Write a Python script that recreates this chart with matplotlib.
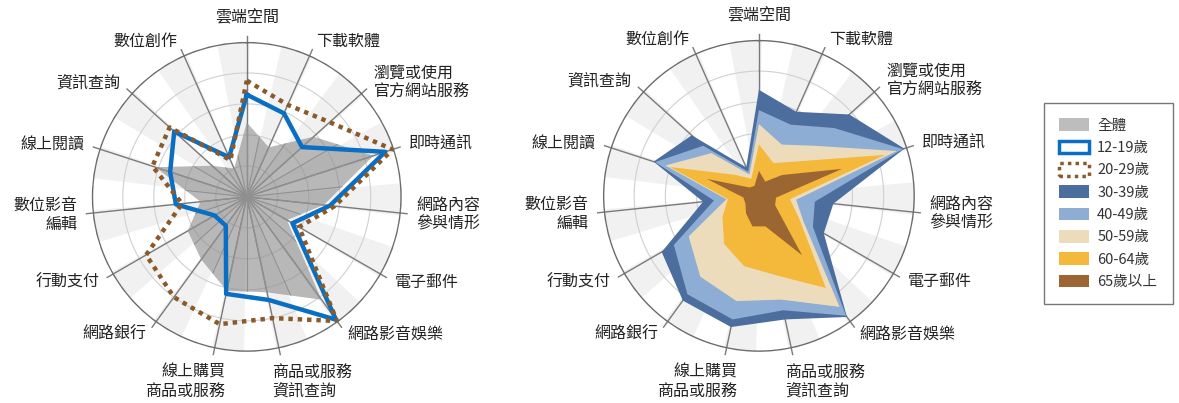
import numpy as np
import matplotlib
matplotlib.use('Agg')
import matplotlib.pyplot as plt
from matplotlib.patches import Patch

plt.rcParams['font.family'] = ['Noto Sans CJK TC', 'DejaVu Sans']

categories = ['雲端空間', '下載軟體', '瀏覽或使用\n官方網站服務', '即時通訊', '網路內容\n參與情形',
              '電子郵件', '網路影音娛樂', '商品或服務\n資訊查詢', '線上購買\n商品或服務', '網路銀行',
              '行動支付', '數位影音\n編輯', '線上閱讀', '資訊查詢', '數位創作']

total = [48, 35, 58, 86, 50, 30, 82, 63, 62, 50, 44, 30, 62, 30, 20]
age_12_19 = [66, 59, 48, 94, 54, 34, 98, 68, 64, 23, 24, 46, 52, 63, 28]
age_20_29 = [75, 65, 72, 99, 57, 39, 99, 80, 84, 80, 75, 42, 64, 67, 26]
age_30_39 = [68, 59, 78, 98, 48, 48, 96, 81, 86, 83, 72, 36, 71, 58, 20]
age_40_49 = [55, 50, 65, 97, 36, 40, 95, 75, 81, 78, 63, 29, 70, 48, 17]
age_50_59 = [46, 36, 48, 93, 24, 33, 88, 68, 69, 64, 52, 21, 63, 41, 15]
age_60_64 = [33, 23, 33, 85, 20, 30, 73, 52, 46, 38, 27, 20, 60, 20, 12]
age_65_up = [16, 10, 20, 56, 11, 12, 47, 20, 20, 14, 10, 10, 35, 8, 7]

n = len(categories)
theta = np.arange(n) * 2 * np.pi / n


def closed(v):
    return np.append(v, v[0])


def setup(ax):
    ax.set_theta_zero_location('N')
    ax.set_theta_direction(-1)
    ax.set_ylim(0, 100)
    ax.axis('off')
    # alternating background sectors
    w = np.pi / n
    starts = theta - np.deg2rad(11)
    ax.bar(starts + w / 2, 100, width=w, color='#f1f1f1', edgecolor='none', zorder=0)
    t = np.linspace(0, 2 * np.pi, 400)
    for r in [20, 40, 60, 80]:
        ax.plot(t, np.full_like(t, r), color='#d0d0d0', lw=0.8, zorder=1)
    for a in theta:
        ax.plot([a, a], [0, 104], color='#7a7a7a', lw=1, zorder=1, clip_on=False)
    ax.plot(t, np.full_like(t, 100), color='#6b6b6b', lw=2, zorder=5)
    for a, lab in zip(theta, categories):
        s, c = np.sin(a), np.cos(a)
        ha = 'left' if s > 0.05 else ('right' if s < -0.05 else 'center')
        va = 'bottom' if c > 0.95 else ('top' if c < -0.95 else 'center')
        dx = 0
        if va == 'top':
            dx = -7 if ha == 'left' else 10
        ax.annotate(lab, (a, 110), xytext=(dx, 0), textcoords='offset points',
                    ha=ha, va=va, fontsize=11.5, color='#222222', fontweight='medium',
                    linespacing=1.15, annotation_clip=False)


fig = plt.figure(figsize=(11.79, 4.03), dpi=100)
ax1 = fig.add_axes([0.0778, 0.127, 0.263, 0.769], projection='polar')
ax2 = fig.add_axes([0.5114, 0.127, 0.2646, 0.774], projection='polar')
setup(ax1)
setup(ax2)

# left chart
gray = ax1.fill(closed(theta), closed(total), color='#8a8a8a', alpha=0.6, lw=0, zorder=2)[0]
for a in np.arange(2 * n) * np.pi / n:
    ln, = ax1.plot([a, a], [0, 100], color='#909090', lw=0.8, zorder=2)
    ln.set_clip_path(gray)
ax1.plot(closed(theta), closed(age_12_19), color='#0a6fc2', lw=3.2, zorder=3)
ax1.plot(closed(theta), closed(age_20_29), color='#8b5a2b', lw=3.2,
         linestyle=(0, (1, 1.1)), zorder=4)

# right chart
series = [age_30_39, age_40_49, age_50_59, age_60_64, age_65_up]
colors = ['#4b6e9e', '#8dadd5', '#ecdcbb', '#f4b83a', '#9b6631']
for v, c in zip(series, colors):
    ax2.fill(closed(theta), closed(v), color=c, lw=0, zorder=2)

handles = [Patch(facecolor='#bdbdbd', edgecolor='none'),
           Patch(facecolor='white', edgecolor='#0a6fc2', lw=2.5),
           Patch(facecolor='white', edgecolor='#8b5a2b', lw=2.5, linestyle=(0, (1, 1.2)))]
handles += [Patch(facecolor=c, edgecolor='none') for c in colors]
labels = ['全體', '12-19歲', '20-29歲', '30-39歲', '40-49歲', '50-59歲', '60-64歲', '65歲以上']
leg = fig.legend(handles, labels, loc='upper left', bbox_to_anchor=(0.8855, 0.7444),
                 borderaxespad=0, frameon=True, fancybox=False, edgecolor='#555555',
                 fontsize=10.5, handlelength=2.05, handleheight=0.95, labelspacing=0.55,
                 borderpad=1.05, handletextpad=0.55)
leg.get_frame().set_linewidth(1)
for t in leg.get_texts():
    t.set_color('#333333')

fig.savefig('out.png', dpi=100)
